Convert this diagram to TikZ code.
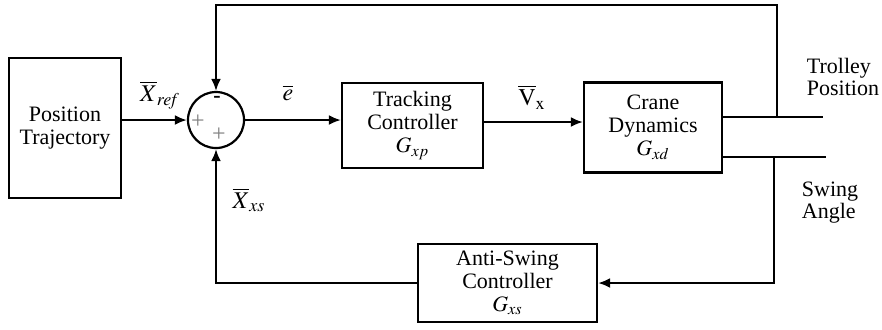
\documentclass[tikz,border=0pt]{standalone}
\usepackage{mathptmx}
\usepackage{fontspec}
\setmainfont{Liberation Serif}
\usetikzlibrary{arrows.meta,positioning}
\tikzset{
  blockbox/.style={rectangle, draw, line width=1.1pt, align=center,
    font=\fontsize{11}{11.5}\selectfont, inner sep=2pt},
  sumnode/.style={circle, draw, line width=1.1pt, minimum size=28pt, inner sep=0pt},
  sigline/.style={line width=1.1pt, -{Latex[length=6pt,width=5pt]}},
  plainline/.style={line width=1.1pt},
  siglabel/.style={font=\fontsize{12}{13}\selectfont, inner sep=0pt},
  outlabel/.style={font=\fontsize{11}{11}\selectfont, align=left, inner sep=0pt},
  signmark/.style={font=\fontsize{12}{12}\selectfont, inner sep=0pt},
}

\begin{document}
\begin{tikzpicture}[x=0.5pt,y=-0.5pt]
  \useasboundingbox (0,0) rectangle (882,329);

  % Blocks
  \node[blockbox, minimum width=56pt, minimum height=70pt] (traj) at (65,128) {Position\\Trajectory};
  \node[sumnode] (sum) at (216,120) {};
  \node[blockbox, minimum width=70.5pt, minimum height=42.5pt] (track) at (412.5,125.5) {Tracking\\Controller\\$G_{xp}$};
  \node[blockbox, minimum width=69pt, minimum height=45pt] (crane) at (653,127.5) {Crane\\Dynamics\\$G_{xd}$};
  \node[blockbox, minimum width=89.5pt, minimum height=39pt] (anti) at (507.5,283) {Anti-Swing\\Controller\\$G_{xs}$};

  % Signs in the summing junction
  \node[signmark, font=\fontsize{11}{11}\selectfont\bfseries] (minus) at (217,99) {-};
  \node[signmark, text=gray] (plusl) at (198,122) {+};
  \node[signmark, text=gray] (plusb) at (219,135) {+};

  % Forward path
  \draw[sigline] (traj.east |- sum.west) -- (sum.west);
  \draw[sigline] (sum.east) -- (sum.east -| track.west);
  \draw[sigline] (track.east |- 0,122) -- (crane.west |- 0,122);

  % Outputs
  \coordinate (tpos) at (823,117);
  \coordinate (sang) at (826,157);
  \draw[plainline] (crane.east |- tpos) -- (tpos);
  \draw[plainline] (crane.east |- sang) -- (sang);

  % Feedback loops
  \coordinate (tbranch) at (777,117);
  \coordinate (topright) at (777,5);
  \draw[sigline] (tbranch) -- (topright) -| (sum.north);
  \coordinate (sbranch) at (774,157);
  \draw[sigline] (sbranch) |- (anti.east);
  \draw[sigline] (anti.west) -| (sum.south);

  % Labels
  \node[siglabel] (xref) at (160,95) {$\overline{X}_{\mathit{ref}}$};
  \node[siglabel] (err) at (288,93) {$\overline{e}$};
  \node[siglabel] (vx) at (532,97) {$\overline{\mathrm{V}}_{\mathrm{x}}$};
  \node[siglabel] (xxs) at (249,200) {$\overline{X}_{xs}$};
  \node[outlabel] (tlabel) at (843,77) {Trolley\\Position};
  \node[outlabel] (slabel) at (830,203) {Swing\\Angle};
\end{tikzpicture}
\end{document}
